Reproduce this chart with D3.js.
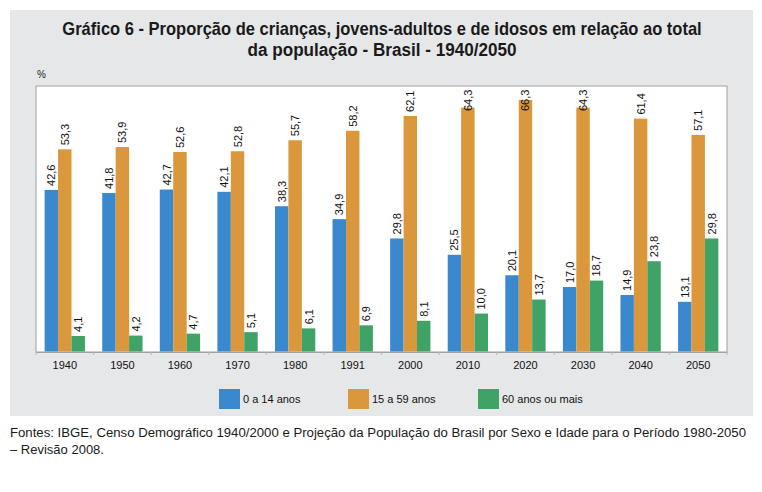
<!DOCTYPE html>
<html>
<head>
<meta charset="utf-8">
<script src="https://cdn.jsdelivr.net/npm/d3@7/dist/d3.min.js"></script>
<style>
  html, body { margin: 0; padding: 0; background: #ffffff; }
  svg { display: block; }
</style>
</head>
<body>
<script>
const years = ["1940","1950","1960","1970","1980","1991","2000","2010","2020","2030","2040","2050"];
const kids = [42.6,41.8,42.7,42.1,38.3,34.9,29.8,25.5,20.1,17.0,14.9,13.1];
const adults = [53.3,53.9,52.6,52.8,55.7,58.2,62.1,64.3,66.3,64.3,61.4,57.1];
const elderly = [4.1,4.2,4.7,5.1,6.1,6.9,8.1,10.0,13.7,18.7,23.8,29.8];
const seriesNames = ["0 a 14 anos","15 a 59 anos","60 anos ou mais"];
const seriesColors = ["#3a89cf","#da973b","#3fa266"];
const titleLines = ["Gráfico 6 - Proporção de crianças, jovens-adultos e de idosos em relação ao total","da população - Brasil - 1940/2050"];
const footerLines = ["Fontes: IBGE, Censo Demográfico 1940/2000 e Projeção da População do Brasil por Sexo e Idade para o Período 1980-2050","– Revisão 2008."];

const W = 762, H = 492;
const plot = {left: 36, right: 727, top: 86, bottom: 352};
const svg = d3.select("body").append("svg").attr("width", W).attr("height", H);
const sans = "'Liberation Sans',Arial,Helvetica,sans-serif";

// grey panel
svg.append("rect").attr("x", 10).attr("y", 10).attr("width", 743).attr("height", 406).attr("fill", "#e6e7e8");

// horizontally condensed text helper: scales the text so it spans the target width
function condensedText(parent, str, cx, yPos, size, weight, targetW, anchor) {
  const t = parent.append("text").attr("font-family", sans).attr("font-weight", weight)
    .attr("font-size", size).attr("fill", "#1a1a1a").attr("x", 0).attr("y", 0)
    .attr("text-anchor", anchor).text(str);
  const len = t.node().getComputedTextLength();
  const sx = targetW / len;
  t.attr("transform", `translate(${cx},${yPos}) scale(${sx},1)`);
  return t;
}

const titleWidths = [640, 269];
titleLines.forEach((line, i) => condensedText(svg, line, 382, 35 + i*21, 17.5, "bold", titleWidths[i], "middle"));

svg.append("text").attr("x", 37).attr("y", 78).attr("font-family", sans)
  .attr("font-size", 10).attr("fill","#222").text("%");

// plot area
svg.append("rect").attr("x", plot.left).attr("y", plot.top)
  .attr("width", plot.right - plot.left).attr("height", plot.bottom - plot.top)
  .attr("fill", "#ffffff").attr("stroke", "#a0a0a0").attr("stroke-width", 1);

const x0 = d3.scaleBand().domain(years).range([plot.left, plot.right]).paddingInner(0.3).paddingOuter(0.15);
const x1 = d3.scaleBand().domain(d3.range(3)).range([0, x0.bandwidth()]);
const y = d3.scaleLinear().domain([0, 70]).range([plot.bottom - 0.5, plot.top]);

const data = years.map((yr, i) => ({year: yr, vals: [kids[i], adults[i], elderly[i]]}));
const fmt = v => d3.format(".1f")(v).replace(".", ",");

const g = svg.append("g");
const groups = g.selectAll("g.grp").data(data).enter().append("g")
  .attr("transform", d => `translate(${x0(d.year)},0)`);

groups.selectAll("rect").data(d => d.vals.map((v, k) => ({v, k}))).enter().append("rect")
  .attr("x", d => x1(d.k)).attr("width", x1.bandwidth())
  .attr("y", d => y(d.v)).attr("height", d => y(0) - y(d.v))
  .attr("fill", d => seriesColors[d.k]);

groups.selectAll("text").data(d => d.vals.map((v, k) => ({v, k}))).enter().append("text")
  .attr("transform", d => {
    const cx = x1(d.k) + x1.bandwidth()/2;
    const yy = Math.max(y(d.v) - 4, plot.top + 25);
    return `translate(${cx + 4},${yy}) rotate(-90)`;
  })
  .attr("font-family", sans).attr("font-size", 11)
  .attr("fill","#111")
  .text(d => fmt(d.v));

// x axis
const xAxis = d3.axisBottom(x0).tickSize(0).tickPadding(9);
const ax = svg.append("g").attr("transform", `translate(0,${plot.bottom})`).call(xAxis);
ax.select(".domain").attr("stroke","#a0a0a0");
ax.selectAll("text").attr("font-family", sans).attr("font-size", 11).attr("fill","#111");
const seps = years.map((yr, i) => i === 0 ? plot.left : x0(yr) - x0.step()*x0.paddingInner()/2);
seps.push(plot.right);
svg.append("g").selectAll("line").data(seps).enter().append("line")
  .attr("x1", d => d).attr("x2", d => d).attr("y1", plot.bottom).attr("y2", plot.bottom + 3)
  .attr("stroke","#b8b8b8").attr("stroke-width", 1);

// legend
const legX = [219, 348, 478];
const leg = svg.append("g");
seriesNames.forEach((name, k) => {
  leg.append("rect").attr("x", legX[k]).attr("y", 389).attr("width", 21).attr("height", 20).attr("fill", seriesColors[k]);
  leg.append("text").attr("x", legX[k] + 24).attr("y", 403)
    .attr("font-family", sans).attr("font-size", 11).attr("fill","#111").text(name);
});

// footer
const footWidths = [737, 94];
footerLines.forEach((line, i) => condensedText(svg, line, 10, 437 + i*17, 13.5, "normal", footWidths[i], "start"));
</script>
</body>
</html>
